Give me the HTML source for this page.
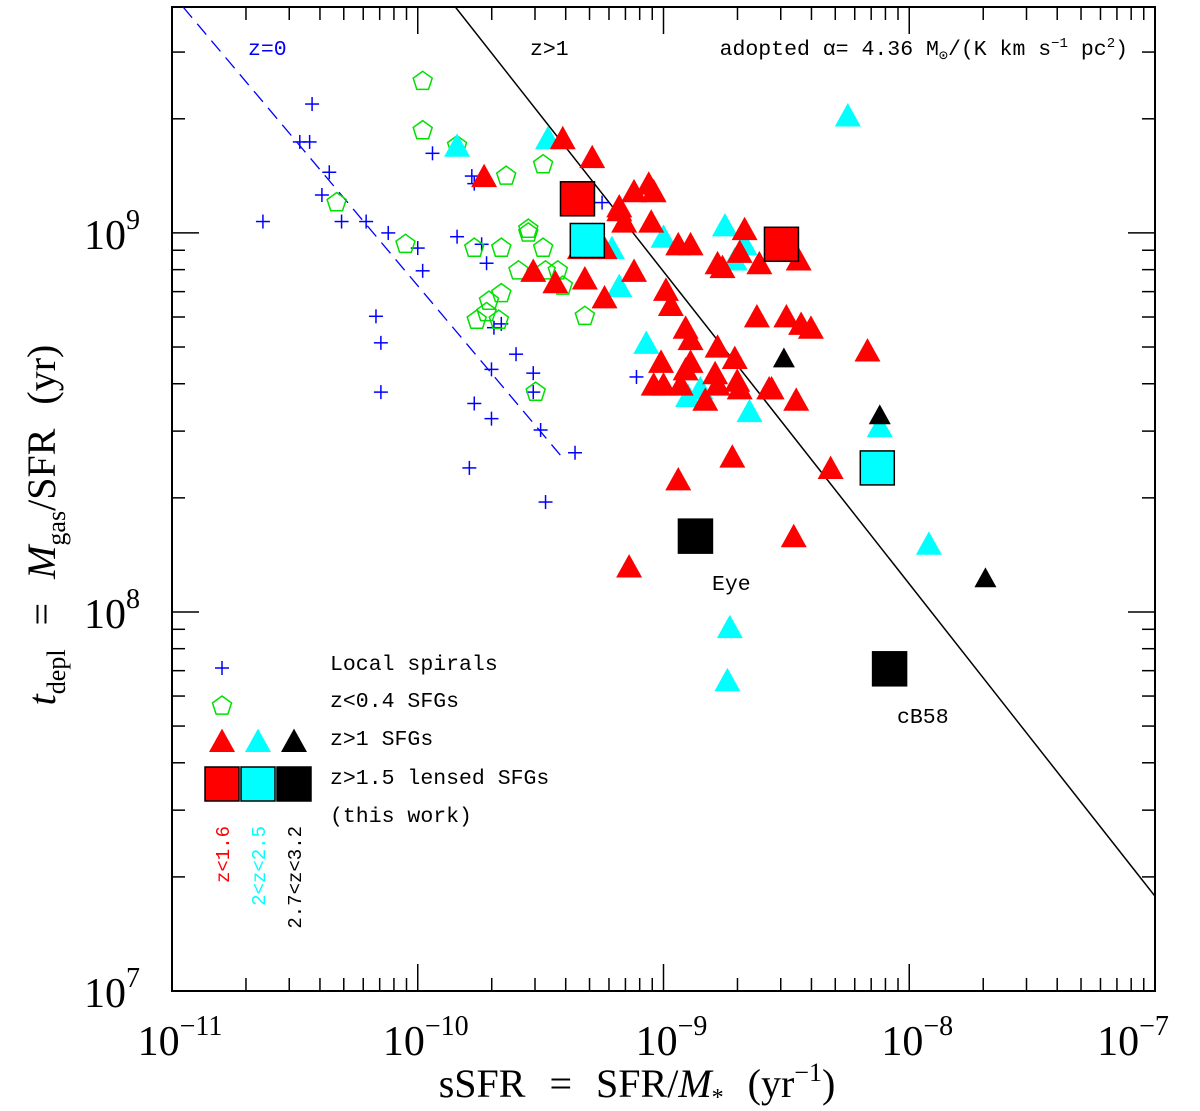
<!DOCTYPE html>
<html><head><meta charset="utf-8"><style>
body{margin:0;background:#fff;}
svg{display:block;}
.mono{font-family:"Liberation Mono",monospace;}
.serif{font-family:"Liberation Serif",serif;}
</style></head><body>
<svg id="chart" width="1200" height="1111" viewBox="0 0 1200 1111" xmlns="http://www.w3.org/2000/svg">
<g id="grid"></g>
<g id="marks"></g>
<g id="overlay"></g>
</svg>
<script>
// data in log10 units: log sSFR (yr^-1), log t_depl (yr)
const spiralX=[-10.63,-10.43,-10.48,-10.44,-10.39,-10.36,-10.21,-10.17,-10.15,-10.15,-10.12,-10.00,-9.98,-9.84,-9.79,-9.78,-9.77,-9.77,-9.74,-9.72,-9.70,-9.70,-9.69,-9.66,-9.60,-9.53,-9.53,-9.50,-9.36,-9.48,-9.25,-9.11,-9.94,-10.31];
const spiralY=[9.03,9.34,9.24,9.24,9.10,9.16,9.03,8.78,8.71,8.58,9.00,8.96,8.90,8.99,8.38,9.15,9.13,8.55,8.97,8.92,8.51,8.64,8.75,8.76,8.68,8.63,8.58,8.48,8.42,8.29,9.08,8.62,9.21,9.03];
const lowzX=[-9.98,-9.98,-10.33,-9.84,-9.64,-10.05,-9.77,-9.66,-9.55,-9.49,-9.55,-9.59,-9.48,-9.43,-9.71,-9.72,-9.76,-9.67,-9.66,-9.52,-9.32,-9.49,-9.41];
const lowzY=[9.40,9.27,9.08,9.23,9.15,8.97,8.96,8.96,9.01,8.96,9.00,8.90,8.90,8.90,8.82,8.79,8.77,8.77,8.84,8.58,8.78,9.18,8.86];
const redTriX=[-9.73,-9.41,-9.29,-9.12,-9.06,-9.18,-9.16,-9.05,-8.94,-8.89,-9.24,-9.32,-9.44,-9.53,-9.24,-9.12,-8.99,-8.97,-8.91,-8.89,-8.89,-8.91,-8.78,-8.71,-8.70,-9.01,-9.00,-8.93,-8.78,-8.83,-8.69,-8.57,-8.56,-8.62,-8.50,-8.44,-8.40,-8.61,-8.54,-8.45,-8.67,-8.76,-8.69,-8.78,-8.46,-8.17,-8.32,-8.72,-8.94,-9.14,-8.47,-9.04,-8.79,-9.18,-9.34,-9.04];
const redTriY=[9.15,9.25,9.20,9.11,9.13,9.07,9.03,9.03,8.97,8.97,8.96,8.88,8.87,8.90,8.83,8.90,8.85,8.81,8.75,8.72,8.66,8.64,8.70,8.67,8.61,8.66,8.60,8.60,8.60,8.56,8.59,8.59,8.59,8.78,8.78,8.76,8.75,8.92,8.97,8.93,9.01,8.91,8.95,8.92,8.56,8.69,8.38,8.41,8.35,8.12,8.20,8.60,8.63,9.06,8.96,9.11];
const cyanTriX=[-9.84,-9.47,-8.25,-9.00,-8.75,-8.67,-8.71,-9.18,-9.07,-8.90,-8.85,-8.65,-8.12,-7.92,-8.73,-8.74,-9.21];
const cyanTriY=[9.23,9.25,9.31,8.99,9.02,8.97,8.93,8.86,8.71,8.57,8.59,8.53,8.49,8.18,7.96,7.82,8.96];
const blackTriX=[-8.51,-8.12,-7.69];
const blackTriY=[8.67,8.52,8.09];
const sqX=[-9.35,-8.52,-9.31,-8.13,-8.87,-8.08];
const sqY=[9.09,8.97,8.98,8.38,8.20,7.85];
const sqColor=["#ff0000","#ff0000","#00ffff","#00ffff","#000000","#000000"];
const xTickLabels=["-11","-10","-9","-8","-7"];
const yTickLabels=["7","8","9"];

const NS="http://www.w3.org/2000/svg";
const L=172,R=1155,T=7,B=991;
const X0=-11,X1=-7,Y0=7,Y1=9.596;
function sx(v){return L+(v-X0)/(X1-X0)*(R-L);}
function sy(v){return B-(v-Y0)/(Y1-Y0)*(B-T);}
function mk(tag,attrs,parent){const e=document.createElementNS(NS,tag);for(const k in attrs)e.setAttribute(k,attrs[k]);parent.appendChild(e);return e;}
const grid=document.getElementById('grid'),marks=document.getElementById('marks'),ov=document.getElementById('overlay');

const fr=mk('rect',{x:L,y:T,width:R-L,height:B-T,fill:'none',stroke:'#000','stroke-width':2},grid);


for(let d=-11;d<-7;d++){for(let m=1;m<10;m++){const v=d+Math.log10(m);const x=sx(v);const len=m==1?27:13;
 mk('line',{x1:x,y1:B,x2:x,y2:B-len,stroke:'#000','stroke-width':1.5},grid);
 mk('line',{x1:x,y1:T,x2:x,y2:T+len,stroke:'#000','stroke-width':1.5},grid);}}
for(let d=7;d<10;d++){for(let m=1;m<10;m++){const v=d+Math.log10(m);if(v>Y1)break;const y=sy(v);const len=m==1?27:13;
 mk('line',{x1:L,y1:y,x2:L+len,y2:y,stroke:'#000','stroke-width':1.5},grid);
 mk('line',{x1:R,y1:y,x2:R-len,y2:y,stroke:'#000','stroke-width':1.5},grid);}}
xTickLabels.forEach((t,i)=>{const x=sx(-11+i);
 const tx=mk('text',{x:x+(i==4?-22:8),y:1055,'text-anchor':'middle','font-size':42,class:'serif'},grid);
 
 
 tx.innerHTML='10<tspan dy="-20" font-size="28">'+t.replace('-','\u2212')+'</tspan>';});
yTickLabels.forEach((t,i)=>{const y=sy(7+i);
 const tx=mk('text',{x:140,y:y+16,'text-anchor':'end','font-size':42,class:'serif'},grid);
 
 
 tx.innerHTML='10<tspan dy="-20" font-size="28">'+t+'</tspan>';});
const xt=mk('text',{x:637,y:1097,'text-anchor':'middle','font-size':40,'word-spacing':14,class:'serif'},grid);


xt.innerHTML='sSFR = SFR/<tspan font-style="italic">M</tspan><tspan dy="8" font-size="24">*</tspan><tspan dy="-8"> (yr</tspan><tspan dy="-16" font-size="26">−1</tspan><tspan dy="16">)</tspan>';
const yt=mk('text',{x:0,y:0,'text-anchor':'middle','font-size':40,'word-spacing':14,class:'serif',transform:'translate(55,525) rotate(-90)'},grid);


yt.innerHTML='<tspan font-style="italic">t</tspan><tspan dy="10" font-size="26">depl</tspan><tspan dy="-10"> = </tspan><tspan font-style="italic">M</tspan><tspan dy="10" font-size="26">gas</tspan><tspan dy="-10">/SFR (yr)</tspan>';

const clip=mk('clipPath',{id:'pc'},grid);mk('rect',{x:L,y:T,width:R-L,height:B-T},clip);
const l1=mk('line',{x1:sx(-9.847),y1:sy(9.596),x2:sx(-7),y2:sy(9.596-0.824*2.847),stroke:'#000','stroke-width':1.5,'clip-path':'url(#pc)'},grid);


const l2=mk('line',{x1:sx(-10.955),y1:sy(9.596),x2:sx(-9.42),y2:sy(8.414),stroke:'#0000ff','stroke-width':1.3,'stroke-dasharray':'14,8','clip-path':'url(#pc)'},grid);



function cross(x,y,c,p){const g=mk('g',{stroke:c,'stroke-width':1.5},p);mk('line',{x1:x-7,y1:y,x2:x+7,y2:y},g);mk('line',{x1:x,y1:y-7,x2:x,y2:y+7},g);return g;}
function pent(x,y,p){let pts=[];for(let k=0;k<5;k++){const a=-Math.PI/2+k*2*Math.PI/5;pts.push((x+10*Math.cos(a)).toFixed(1)+','+(y+10*Math.sin(a)).toFixed(1));}
 return mk('polygon',{points:pts.join(' '),fill:'none',stroke:'#00e000','stroke-width':1.5},p);}
function tri(x,y,c,p,s){s=s||13;return mk('polygon',{points:`${x-s},${y+s*0.85} ${x+s},${y+s*0.85} ${x},${y-s*0.95}`,fill:c},p);}
function sq(x,y,c,p){return mk('rect',{x:x-17,y:y-17,width:34,height:34,fill:c,stroke:'#000','stroke-width':1.5},p);}

spiralX.forEach((v,i)=>{const e=cross(sx(v),sy(spiralY[i]),'#0000ff',marks);
 
 });
lowzX.forEach((v,i)=>{const e=pent(sx(v),sy(lowzY[i]),marks);
 
 });
cyanTriX.forEach((v,i)=>{const e=tri(sx(v),sy(cyanTriY[i]),'#00ffff',marks);
 
 });
redTriX.forEach((v,i)=>{const e=tri(sx(v),sy(redTriY[i]),'#ff0000',marks);
 
 });
blackTriX.forEach((v,i)=>{const e=tri(sx(v),sy(blackTriY[i]),'#000000',marks,11);
 
 });
sqX.forEach((v,i)=>{const e=sq(sx(v),sy(sqY[i]),sqColor[i],marks);
 
 });

function txt(x,y,s,opts,name){const a=Object.assign({x:x,y:y,'font-size':21.5,class:'mono'},opts||{});const e=mk('text',a,ov);e.innerHTML=s;
 
 return e;}
txt(248,55,'z=0',{fill:'#0000ff'},'z0-label');
txt(530,55,'z&gt;1',{},'z1-label');
txt(1128,55,'adopted α= 4.36 M<tspan dy="5" font-size="15">⊙</tspan><tspan dy="-5">/(K km s</tspan><tspan dy="-8" font-size="14">−1</tspan><tspan dy="8"> pc</tspan><tspan dy="-8" font-size="14">2</tspan><tspan dy="8">)</tspan>',{'text-anchor':'end'},'alpha-annotation');
txt(712,590,'Eye',{},'eye-label');
txt(897,723,'cB58',{},'cb58-label');
const lt=['Local spirals','z&lt;0.4 SFGs','z&gt;1 SFGs','z&gt;1.5 lensed SFGs','(this work)'];
const ly=[670,707,745,784,822];
lt.forEach((s,i)=>txt(330,ly[i],s,{},'legend-entry'));
let e;
e=cross(222,668,'#0000ff',ov);
e=pent(222,706,ov);
[['#ff0000',222],['#00ffff',258],['#000000',294]].forEach(([c,x])=>{
 e=tri(x,741,c,ov);
 e=sq(x,784,c,ov);});
[['z&lt;1.6','#ff0000',222],['2&lt;z&lt;2.5','#00ffff',258],['2.7&lt;z&lt;3.2','#000000',294]].forEach(([s,c,x])=>{
 const t=mk('text',{x:0,y:0,'font-size':19,class:'mono',fill:c,'text-anchor':'end',transform:`translate(${x+7},826) rotate(-90)`},ov);t.innerHTML=s;
 
 });
</script>
</body></html>
